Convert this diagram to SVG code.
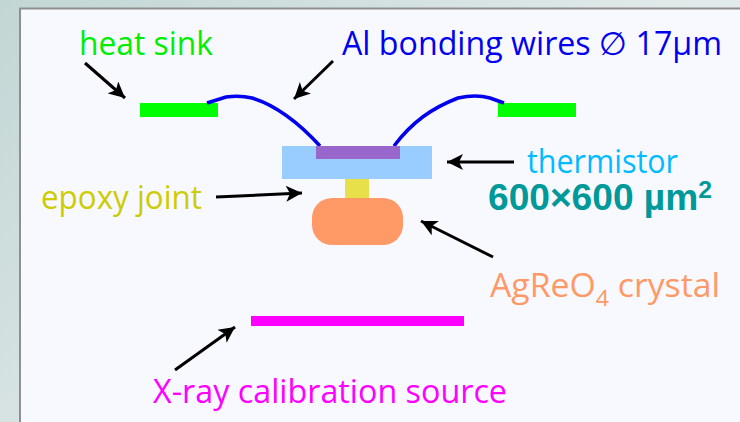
<svg xmlns="http://www.w3.org/2000/svg" width="740" height="422" viewBox="0 0 740 422">
<defs>
<linearGradient id="bg" x1="0" y1="0" x2="1" y2="0.6"><stop offset="0" stop-color="#c2d6d4"/><stop offset="1" stop-color="#eef3f3"/></linearGradient>
<marker id="ah" viewBox="0 0 10 10" refX="10" refY="5" markerWidth="17" markerHeight="16" markerUnits="userSpaceOnUse" orient="auto"><path d="M0 0L10 5L0 10L2.5 5Z" fill="#000"/></marker>
</defs>
<style>
text{font-family:"Open Sans","DejaVu Sans",sans-serif;font-size:32px}
.a{fill:none;stroke:#000;stroke-width:3;marker-end:url(#ah)}
.w{fill:none;stroke:#0000ee;stroke-width:3.5}
</style>
<rect width="740" height="422" fill="url(#bg)"/>
<rect x="20" y="8.5" width="730" height="430" fill="#f8f8ff" stroke="#8f8f8f" stroke-width="2"/>
<g id="connectors">
<path class="a" d="M85 63L125 98"/>
<path class="a" d="M333 61L294 99"/>
<path class="a" d="M514 162L447 162"/>
<path class="a" d="M216 197L302 193"/>
<path class="a" d="M493 257L421 221"/>
<path class="a" d="M175 370L235 327"/>
</g>
<g id="heat-sink-left"><rect x="140" y="103" width="78" height="14" fill="#00ff00"/><text x="79" y="55" fill="#00ee00" textLength="134" lengthAdjust="spacingAndGlyphs">heat sink</text></g>
<g id="heat-sink-right"><rect x="498" y="103" width="78" height="14" fill="#00ff00"/></g>
<g id="bonding-wires">
<path class="w" d="M207 103L226 97Q240 95 252 98C275 105 298 122 320 146"/>
<path class="w" d="M394 146C412 122 432 108 458 98Q476 94 490 98L504 103"/>
<text x="342" y="55" fill="#0000ee" textLength="380" lengthAdjust="spacingAndGlyphs">Al bonding wires ∅ 17µm</text></g>
<g id="thermistor"><rect x="282" y="146" width="150" height="33" fill="#99ccff"/><rect x="316" y="146" width="84" height="13" fill="#9966cc"/><text x="527" y="173" fill="#00bbff" textLength="151" lengthAdjust="spacingAndGlyphs">thermistor</text>
<text x="488" y="210" fill="#009999" font-weight="700" textLength="224" lengthAdjust="spacingAndGlyphs" style="font-family:'Liberation Sans',Arial,sans-serif;font-size:36px">600×600 µm<tspan font-size="24" dy="-12">2</tspan></text></g>
<g id="epoxy-joint"><rect x="345" y="179" width="24" height="20" fill="#e8e04a"/><text x="41" y="209" fill="#cccc00" textLength="161" lengthAdjust="spacingAndGlyphs">epoxy joint</text></g>
<g id="crystal"><rect x="312" y="198" width="91" height="47" rx="20" fill="#ff9966"/><text x="490" y="297" fill="#ff9966" textLength="230" lengthAdjust="spacingAndGlyphs">AgReO<tspan font-size="22" dy="9">4</tspan><tspan dy="-9"> crystal</tspan></text></g>
<g id="source"><rect x="251" y="316" width="213" height="10" fill="#ff00ff"/><text x="153" y="403" fill="#ff00ff" textLength="354" lengthAdjust="spacingAndGlyphs">X-ray calibration source</text></g>
</svg>
